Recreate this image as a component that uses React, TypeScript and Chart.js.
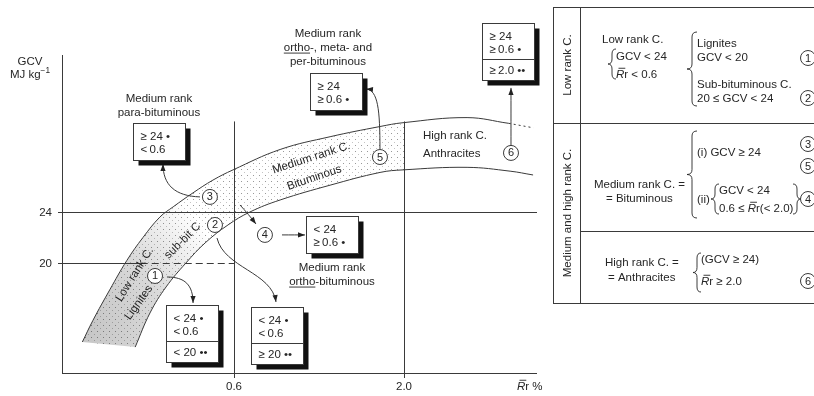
import React, { useEffect, useRef } from "react";
import { Chart, registerables } from "chart.js";
Chart.register(...registerables);

// ---------------- data (Rr % on a log axis, GCV MJ/kg) ----------------
const xTickValues = [0.6, 2.0];
const xTickLabels = ["0.6", "2.0"];
const yTickValues = [24, 20];
const yTickLabels = ["24", "20"];
const xAxisTitle = "{R}r %";
const yAxisTitle = ["GCV", "MJ kg^{−1}"];

const outerRr = [0.205, 0.221, 0.249, 0.281, 0.315, 0.355, 0.39, 0.449, 0.517, 0.596, 0.832, 1.185, 1.688, 1.986, 3.126, 4.2];
const outerGcv = [13.8, 15.5, 17.9, 20.2, 22.0, 23.6, 24.4, 25.5, 26.5, 27.3, 28.9, 29.9, 30.7, 31.0, 31.4, 30.95];
const outerTailRr = [4.2, 5.0];
const outerTailGcv = [30.95, 30.6];
const innerRr = [0.298, 0.331, 0.371, 0.427, 0.489, 0.575, 0.672, 0.832, 1.185, 1.688, 1.986, 3.126, 4.24, 4.99];
const innerGcv = [13.4, 16.08, 18.12, 20.0, 21.57, 22.98, 24.0, 24.94, 26.1, 27.1, 27.3, 27.5, 27.2, 26.9];

const line20SolidEndRr = 0.31;
const refLineTopGcv = 31.1;

const circleIds = ["1", "2", "3", "4", "5", "6"];
const circleRr = [0.343, 0.5244, 0.506, 0.747, 1.687, 4.267];
const circleGcv = [18.98, 22.98, 25.18, 22.2, 28.31, 28.63];

const boxLines = [
  ["≥ 24 •", "<\u20090.6"],
  ["≥ 24", "≥\u20090.6 •"],
  ["≥ 24", "≥\u20090.6 •", "≥\u20092.0 ••"],
  ["< 24", "≥\u20090.6 •"],
  ["< 24 •", "<\u20090.6", "< 20 ••"],
  ["< 24 •", "<\u20090.6", "≥ 20 ••"],
];
const boxRr = [0.3527, 1.232, 4.18, 1.201, 0.4456, 0.8165];
const boxGcv = [29.53, 33.45, 36.55, 22.2, 14.43, 14.35];

const titleLines = [
  ["Medium rank", "para-bituminous"],
  ["Medium rank", "_ortho_-, meta- and", "per-bituminous"],
  ["Medium rank", "_ortho_-bituminous"],
];
const titleRr = [0.3527, 1.167, 1.201];
const titleGcv = [32.94, 38.04, 19.69];

const bandLabels = ["Low rank C.", "Lignites", "sub-bit C", "Medium rank C.", "Bituminous"];
const bandLabelRr = [0.2954, 0.304, 0.415, 1.035, 1.057];
const bandLabelGcv = [19.14, 16.94, 21.8, 28.31, 26.75];
const bandLabelAngle = [-58, -54, -45, -18, -19];

const highRankLabels = ["High rank C.", "Anthracites"];
const highRankRr = 2.288;
const highRankGcv = [30.04, 28.63];

// arrows: [start, ctrl1, ctrl2, end] in (Rr, GCV)
const arrowPaths = [
  [[0.4716, 25.18], [0.395, 25.25], [0.3629, 26.12], [0.3629, 27.76]],
  [[1.687, 28.94], [1.687, 32.0], [1.664, 33.57], [1.528, 33.65]],
  [[4.267, 29.25], [4.267, 31.0], [4.267, 32.5], [4.267, 33.73]],
  [[0.843, 22.2], [0.9, 22.2], [0.95, 22.2], [0.992, 22.2]],
  [[0.626, 24.55], [0.65, 24.1], [0.68, 23.5], [0.701, 23.06]],
  [[0.3733, 18.9], [0.424, 18.9], [0.449, 18.27], [0.449, 16.86]],
  [[0.532, 21.96], [0.559, 19.61], [0.785, 19.29], [0.808, 16.94]],
];

// ---------------- drawing helpers ----------------
const FONT = '"Liberation Sans", Arial, Helvetica, sans-serif';
const INK = "#262626";
const LINE = "#3a3a3a";
const FS = 11.5;

function fnt(size: number, italic = false) {
  return `${italic ? "italic " : ""}${size}px ${FONT}`;
}

type Run = { t: string; it?: boolean; bar?: boolean; sup?: boolean; ul?: boolean };
function parseRich(s: string): Run[] {
  const out: Run[] = [];
  const re = /\{R\}|\^\{([^}]*)\}|_([^_]+)_/g;
  let last = 0;
  let m: RegExpExecArray | null;
  while ((m = re.exec(s))) {
    if (m.index > last) out.push({ t: s.slice(last, m.index) });
    if (m[0] === "{R}") out.push({ t: "R", it: true, bar: true });
    else if (m[1] !== undefined) out.push({ t: m[1], sup: true });
    else out.push({ t: m[2], ul: true });
    last = re.lastIndex;
  }
  if (last < s.length) out.push({ t: s.slice(last) });
  return out;
}

function drawRich(ctx: CanvasRenderingContext2D, s: string, x: number, y: number, align = "left", size = FS) {
  const runs = parseRich(s);
  const widths = runs.map((r) => {
    ctx.font = fnt(r.sup ? size * 0.72 : size, r.it);
    return ctx.measureText(r.t).width;
  });
  const total = widths.reduce((a, b) => a + b, 0);
  let cx = align === "center" ? x - total / 2 : align === "right" ? x - total : x;
  const base = y + size * 0.36;
  ctx.textAlign = "left";
  ctx.textBaseline = "alphabetic";
  ctx.fillStyle = INK;
  runs.forEach((r, i) => {
    const sz = r.sup ? size * 0.72 : size;
    ctx.font = fnt(sz, r.it);
    const by = r.sup ? base - size * 0.42 : base;
    ctx.fillText(r.t, cx, by);
    ctx.strokeStyle = INK;
    ctx.lineWidth = 0.9;
    if (r.bar) {
      ctx.beginPath();
      ctx.moveTo(cx + 2.5, base - size * 0.86);
      ctx.lineTo(cx + widths[i] + 1, base - size * 0.86);
      ctx.stroke();
    }
    if (r.ul) {
      ctx.beginPath();
      ctx.moveTo(cx, base + 2);
      ctx.lineTo(cx + widths[i], base + 2);
      ctx.stroke();
    }
    cx += widths[i];
  });
}

function brace(ctx: CanvasRenderingContext2D, x: number, y1: number, y2: number, dir = 1, w = 4.5) {
  const ym = (y1 + y2) / 2;
  const r = Math.min(5, (y2 - y1) / 6);
  const d = w * dir;
  ctx.beginPath();
  ctx.moveTo(x + d, y1);
  ctx.quadraticCurveTo(x, y1, x, y1 + r);
  ctx.lineTo(x, ym - r);
  ctx.quadraticCurveTo(x, ym, x - d, ym);
  ctx.quadraticCurveTo(x, ym, x, ym + r);
  ctx.lineTo(x, y2 - r);
  ctx.quadraticCurveTo(x, y2, x + d, y2);
  ctx.stroke();
}

function circleNum(ctx: CanvasRenderingContext2D, x: number, y: number, label: string) {
  ctx.beginPath();
  ctx.arc(x, y, 7.5, 0, Math.PI * 2);
  ctx.fillStyle = "#fff";
  ctx.fill();
  ctx.strokeStyle = LINE;
  ctx.lineWidth = 1;
  ctx.stroke();
  ctx.fillStyle = INK;
  ctx.font = fnt(11);
  ctx.textAlign = "center";
  ctx.textBaseline = "middle";
  ctx.fillText(label, x, y + 0.5);
}

function hline(ctx: CanvasRenderingContext2D, x1: number, x2: number, y: number) {
  ctx.beginPath();
  ctx.moveTo(x1, Math.round(y) + 0.5);
  ctx.lineTo(x2, Math.round(y) + 0.5);
  ctx.stroke();
}
function vline(ctx: CanvasRenderingContext2D, x: number, y1: number, y2: number) {
  ctx.beginPath();
  ctx.moveTo(Math.round(x) + 0.5, y1);
  ctx.lineTo(Math.round(x) + 0.5, y2);
  ctx.stroke();
}

function traceForward(ctx: CanvasRenderingContext2D, pts: any[]) {
  pts.forEach((p, i) => {
    if (i === 0) ctx.moveTo(p.x, p.y);
    else {
      const q = pts[i - 1];
      ctx.bezierCurveTo(q.cp2x ?? q.x, q.cp2y ?? q.y, p.cp1x ?? p.x, p.cp1y ?? p.y, p.x, p.y);
    }
  });
}
function traceBackward(ctx: CanvasRenderingContext2D, pts: any[]) {
  const n = pts.length;
  ctx.lineTo(pts[n - 1].x, pts[n - 1].y);
  for (let i = n - 2; i >= 0; i--) {
    const q = pts[i + 1];
    const p = pts[i];
    ctx.bezierCurveTo(q.cp1x ?? q.x, q.cp1y ?? q.y, p.cp2x ?? p.x, p.cp2y ?? p.y, p.x, p.y);
  }
}

let dotPattern: CanvasPattern | null = null;
function getPattern(ctx: CanvasRenderingContext2D) {
  if (!dotPattern) {
    const c = document.createElement("canvas");
    c.width = 6;
    c.height = 6;
    const g = c.getContext("2d")!;
    g.fillStyle = "#999";
    g.fillRect(1, 1, 1, 1);
    g.fillStyle = "#c4c4c4";
    g.fillRect(4, 4, 1, 1);
    dotPattern = ctx.createPattern(c, "repeat");
  }
  return dotPattern!;
}

const diagramPlugin = {
  id: "coalDiagram",
  beforeDatasetsDraw(chart: any) {
    const ctx: CanvasRenderingContext2D = chart.ctx;
    const xs = chart.scales.x;
    const ys = chart.scales.y;
    const a = chart.chartArea;
    const X = (v: number) => xs.getPixelForValue(v);
    const Y = (v: number) => ys.getPixelForValue(v);
    const outer = chart.getDatasetMeta(0).data;
    const inner = chart.getDatasetMeta(1).data;

    // band shading (left of Rr = 2.0)
    ctx.save();
    ctx.beginPath();
    traceForward(ctx, outer);
    traceBackward(ctx, inner);
    ctx.closePath();
    ctx.clip();
    const x2 = X(xTickValues[1]);
    ctx.fillStyle = getPattern(ctx);
    ctx.fillRect(a.left, a.top, x2 - a.left, a.bottom - a.top);
    const gx = X(0.19);
    const gy = Y(15);
    const grad = ctx.createRadialGradient(gx, gy, 0, gx, gy, 165);
    grad.addColorStop(0, "rgba(0,0,0,0.24)");
    grad.addColorStop(0.55, "rgba(0,0,0,0.15)");
    grad.addColorStop(1, "rgba(0,0,0,0)");
    ctx.fillStyle = grad;
    ctx.fillRect(a.left, a.top, x2 - a.left, a.bottom - a.top);
    ctx.restore();

    // reference lines and axes
    ctx.save();
    ctx.strokeStyle = LINE;
    ctx.lineWidth = 1;
    hline(ctx, a.left - 4, a.right, Y(yTickValues[0]));
    hline(ctx, a.left - 4, X(line20SolidEndRr), Y(yTickValues[1]));
    ctx.setLineDash([7, 4]);
    hline(ctx, X(line20SolidEndRr), X(xTickValues[0]), Y(yTickValues[1]));
    ctx.setLineDash([]);
    xTickValues.forEach((v) => vline(ctx, X(v), Y(refLineTopGcv), a.bottom + 5));
    vline(ctx, a.left, a.top, a.bottom);
    hline(ctx, a.left, a.right, a.bottom);
    ctx.restore();
  },
  afterDatasetsDraw(chart: any) {
    const ctx: CanvasRenderingContext2D = chart.ctx;
    const xs = chart.scales.x;
    const ys = chart.scales.y;
    const a = chart.chartArea;
    const X = (v: number) => xs.getPixelForValue(v);
    const Y = (v: number) => ys.getPixelForValue(v);
    ctx.save();

    // tick labels and axis titles
    yTickValues.forEach((v, i) => drawRich(ctx, yTickLabels[i], a.left - 10, Y(v), "right"));
    xTickValues.forEach((v, i) => drawRich(ctx, xTickLabels[i], X(v), a.bottom + 13, "center"));
    drawRich(ctx, xAxisTitle, a.right - 20, a.bottom + 13, "left");
    yAxisTitle.forEach((t, i) => drawRich(ctx, t, a.left - 32, a.top + 6 + i * 13, "center"));

    // band labels
    bandLabels.forEach((t, i) => {
      ctx.save();
      ctx.translate(X(bandLabelRr[i]), Y(bandLabelGcv[i]));
      ctx.rotate((bandLabelAngle[i] * Math.PI) / 180);
      drawRich(ctx, t, 0, 0, "center");
      ctx.restore();
    });
    highRankLabels.forEach((t, i) => drawRich(ctx, t, X(highRankRr), Y(highRankGcv[i]), "left"));

    // arrows
    ctx.lineWidth = 1;
    arrowPaths.forEach((p) => {
      const P = p.map(([r, g]) => [X(r), Y(g)]);
      ctx.strokeStyle = LINE;
      ctx.beginPath();
      ctx.moveTo(P[0][0], P[0][1]);
      ctx.bezierCurveTo(P[1][0], P[1][1], P[2][0], P[2][1], P[3][0], P[3][1]);
      ctx.stroke();
      const [ex, ey] = P[3];
      let dx = ex - P[2][0];
      let dy = ey - P[2][1];
      if (Math.hypot(dx, dy) < 1) {
        dx = ex - P[0][0];
        dy = ey - P[0][1];
      }
      const ang = Math.atan2(dy, dx);
      const L = 7;
      const W = 2.6;
      ctx.fillStyle = "#222";
      ctx.beginPath();
      ctx.moveTo(ex, ey);
      ctx.lineTo(ex - L * Math.cos(ang) + W * Math.sin(ang), ey - L * Math.sin(ang) - W * Math.cos(ang));
      ctx.lineTo(ex - L * Math.cos(ang) - W * Math.sin(ang), ey - L * Math.sin(ang) + W * Math.cos(ang));
      ctx.closePath();
      ctx.fill();
    });

    // boxes with drop shadow
    boxLines.forEach((lines, i) => {
      const w = 52;
      const h = lines.length === 3 ? 57 : 37;
      const cx = X(boxRr[i]);
      const cy = Y(boxGcv[i]);
      const l = Math.round(cx - w / 2) + 0.5;
      const t = Math.round(cy - h / 2) + 0.5;
      ctx.fillStyle = "#111";
      ctx.fillRect(l + 5, t + 5, w, h);
      ctx.fillStyle = "#fff";
      ctx.fillRect(l, t, w, h);
      ctx.strokeStyle = LINE;
      ctx.lineWidth = 1;
      ctx.strokeRect(l, t, w, h);
      const offs = [12, 25.5, 46.5];
      lines.forEach((s, j) => drawRich(ctx, s, l + 7, t + offs[j], "left"));
      if (lines.length === 3) {
        ctx.strokeStyle = LINE;
        ctx.lineWidth = 1;
        hline(ctx, l, l + w, t + 35);
      }
    });

    // titles
    titleLines.forEach((lines, i) => {
      lines.forEach((s, j) => drawRich(ctx, s, X(titleRr[i]), Y(titleGcv[i]) + j * 14, "center"));
    });

    // numbered circles
    circleIds.forEach((id, i) => circleNum(ctx, X(circleRr[i]), Y(circleGcv[i]), id));

    // ---------------- classification table ----------------
    const L0 = 553, I0 = 580, R0 = 814, T0 = 7, R1 = 123, R2 = 231, B0 = 303;
    ctx.strokeStyle = LINE;
    ctx.lineWidth = 1;
    hline(ctx, L0, R0, T0);
    hline(ctx, L0, R0, R1);
    hline(ctx, I0, R0, R2);
    hline(ctx, L0, R0, B0);
    vline(ctx, L0, T0, B0 + 0.5);
    vline(ctx, I0, T0, B0 + 0.5);

    const rot = (s: string, x: number, y: number) => {
      ctx.save();
      ctx.translate(x, y);
      ctx.rotate(-Math.PI / 2);
      drawRich(ctx, s, 0, 0, "center");
      ctx.restore();
    };
    rot("Low rank C.", 567, (T0 + R1) / 2);
    rot("Medium and high rank C.", 567, (R1 + B0) / 2);

    const br = (x: number, y1: number, y2: number, dir: number, w: number) => {
      ctx.strokeStyle = INK;
      ctx.lineWidth = 0.9;
      brace(ctx, x, y1, y2, dir, w);
    };
    // row 1
    drawRich(ctx, "Low rank C.", 602, 39, "left");
    br(612, 49, 79, 1, 4);
    drawRich(ctx, "GCV < 24", 616, 56, "left");
    drawRich(ctx, "{R}r < 0.6", 616, 74, "left");
    br(692, 32, 106, 1, 5);
    drawRich(ctx, "Lignites", 697, 43, "left");
    drawRich(ctx, "GCV < 20", 697, 57, "left");
    drawRich(ctx, "Sub-bituminous C.", 697, 84, "left");
    drawRich(ctx, "20 ≤ GCV < 24", 697, 98, "left");
    circleNum(ctx, 808, 58, "1");
    circleNum(ctx, 808, 98, "2");

    // row 2
    drawRich(ctx, "Medium rank C. =", 685, 184, "right");
    drawRich(ctx, "= Bituminous", 606, 198, "left");
    br(692, 131, 218, 1, 5);
    drawRich(ctx, "(i) GCV ≥ 24", 697, 152, "left");
    drawRich(ctx, "(ii)", 697, 199, "left");
    br(715, 184, 214, 1, 4);
    drawRich(ctx, "GCV < 24", 719, 190, "left");
    drawRich(ctx, "0.6 ≤ {R}r(< 2.0)", 719, 208, "left");
    br(797, 184, 214, -1, 4);
    circleNum(ctx, 808, 144, "3");
    circleNum(ctx, 808, 166, "5");
    circleNum(ctx, 808, 199, "4");

    // row 3
    drawRich(ctx, "High rank C. =", 605, 262, "left");
    drawRich(ctx, "= Anthracites", 608, 277, "left");
    br(697, 253, 292, 1, 4);
    drawRich(ctx, "(GCV ≥ 24)", 701, 259, "left");
    drawRich(ctx, "{R}r ≥ 2.0", 701, 281, "left");
    circleNum(ctx, 808, 281, "6");

    ctx.restore();
  },
};

export default function App() {
  const ref = useRef<HTMLCanvasElement>(null);
  useEffect(() => {
    document.body.style.margin = "0";
    const pts = (xs: number[], ys: number[]) => xs.map((x, i) => ({ x, y: ys[i] }));
    const lineStyle = {
      borderColor: LINE,
      borderWidth: 1,
      pointRadius: 0,
      tension: 0.4,
      fill: false,
    };
    const chart = new Chart(ref.current!, {
      type: "line",
      data: {
        datasets: [
          { label: "upper boundary", data: pts(outerRr, outerGcv), ...lineStyle },
          { label: "lower boundary", data: pts(innerRr, innerGcv), ...lineStyle },
          { label: "upper tail", data: pts(outerTailRr, outerTailGcv), ...lineStyle, tension: 0, borderDash: [2, 3] },
        ],
      },
      options: {
        animation: false,
        responsive: false,
        maintainAspectRatio: false,
        events: [],
        layout: { padding: { left: 62, right: 277, top: 55, bottom: 23 } },
        plugins: { legend: { display: false }, tooltip: { enabled: false } },
        scales: {
          x: { type: "logarithmic", min: 0.1775, max: 5.13, display: false },
          y: { type: "linear", min: 11.37, max: 36.31, display: false },
        },
      } as any,
      plugins: [diagramPlugin as any],
    });
    return () => chart.destroy();
  }, []);
  return (
    <div style={{ position: "fixed", left: 0, top: 0, width: 814, height: 396, background: "#fff" }}>
      <canvas ref={ref} width={814} height={396} style={{ width: 814, height: 396, display: "block" }} />
    </div>
  );
}
